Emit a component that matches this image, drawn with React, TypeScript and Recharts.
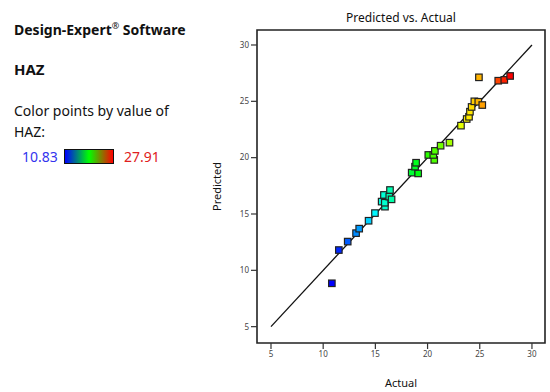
import React from "react";
import {
  ScatterChart,
  Scatter,
  XAxis,
  YAxis,
  ReferenceLine,
  ReferenceArea,
  Label,
} from "recharts";

// HAZ: actual vs predicted
const actual = [
  10.83, 11.5, 12.35, 13.15, 13.45, 14.35, 14.96, 15.92, 15.6, 15.9, 15.82, 16.33,
  16.55, 16.4, 18.48, 19.1, 18.8, 18.9, 20.07, 20.64, 20.55, 20.7, 21.25, 22.1,
  23.2, 23.75, 23.97, 24.06, 24.22, 24.48, 24.86, 25.24, 24.92, 26.77, 27.35, 27.91,
];
const predicted = [
  8.85, 11.8, 12.55, 13.3, 13.7, 14.4, 15.08, 15.65, 16.1, 16.0, 16.69, 16.54,
  16.3, 17.13, 18.67, 18.6, 19.2, 19.55, 20.24, 19.8, 20.24, 20.6, 21.06, 21.33,
  22.84, 23.43, 23.63, 24.08, 24.5, 25.0, 24.96, 24.67, 27.13, 26.83, 26.9, 27.25,
];
const ticks = [5, 10, 15, 20, 25, 30];
const minHaz = 10.83;
const maxHaz = 27.91;

const data = actual.map((a, i) => ({ actual: a, predicted: predicted[i] }));

const xDomain = [3.66, 31.25];
const yDomain = [3.55, 31.33];

const hazColor = (v: number) => {
  const t = (v - minHaz) / (maxHaz - minHaz);
  const hue = 240 * (1 - Math.max(0, Math.min(1, t)));
  return `hsl(${hue}, 100%, 50%)`;
};

const SquarePoint = (props: any) => {
  const { cx, cy, payload } = props;
  const s = 6.5;
  return (
    <rect
      x={cx - s / 2}
      y={cy - s / 2}
      width={s}
      height={s}
      fill={hazColor(payload.actual)}
      stroke="#222"
      strokeWidth={1.2}
    />
  );
};

const font = "'Noto Sans', 'Open Sans', sans-serif";

export default function App() {
  return (
    <div
      style={{
        position: "absolute",
        left: 0,
        top: 0,
        width: 550,
        height: 392,
        background: "#fff",
        fontFamily: font,
        color: "#111",
      }}
    >
      <div style={{ position: "absolute", left: 14, top: 16, fontSize: 14, fontWeight: 700, lineHeight: "20px" }}>
        Design-Expert<sup style={{ fontSize: 9, fontWeight: 400 }}>®</sup> Software
      </div>
      <div style={{ position: "absolute", left: 14, top: 59, fontSize: 15, fontWeight: 700, lineHeight: "20px" }}>
        HAZ
      </div>
      <div style={{ position: "absolute", left: 14, top: 100, fontSize: 14, lineHeight: "21px" }}>
        Color points by value of
        <br />
        HAZ:
      </div>
      <div style={{ position: "absolute", left: 22, top: 147, fontSize: 14, lineHeight: "20px", color: "#3333ee" }}>
        {minHaz.toFixed(2)}
      </div>
      <div
        style={{
          position: "absolute",
          left: 64,
          top: 149,
          width: 48,
          height: 13,
          border: "1.5px solid #111",
          background: "linear-gradient(to right, #0000ff, #00ff00, #ff0000)",
        }}
      />
      <div style={{ position: "absolute", left: 124, top: 147, fontSize: 14, lineHeight: "20px", color: "#e02020" }}>
        {maxHaz.toFixed(2)}
      </div>

      <div
        style={{
          position: "absolute",
          left: 257,
          width: 288,
          top: 10,
          textAlign: "center",
          fontSize: 12,
          lineHeight: "16px",
        }}
      >
        Predicted vs. Actual
      </div>

      <div style={{ position: "absolute", left: 0, top: 0 }}>
        <ScatterChart
          width={550}
          height={392}
          margin={{ top: 30, right: 5, bottom: 19, left: 237 }}
        >
          <XAxis
            type="number"
            dataKey="actual"
            domain={xDomain}
            ticks={ticks}
            allowDataOverflow
            height={30}
            axisLine={false}
            tickSize={6}
            tickLine={{ stroke: "#333", strokeWidth: 1.2 }}
            tick={{ fontSize: 8, fill: "#444", fontFamily: font }}
          >
            <Label
              value="Actual"
              position="bottom"
              offset={6}
              style={{ fontSize: 11, fill: "#111", fontFamily: font }}
            />
          </XAxis>
          <YAxis
            type="number"
            dataKey="predicted"
            domain={yDomain}
            ticks={ticks}
            allowDataOverflow
            width={20}
            axisLine={false}
            tickSize={6}
            tickLine={{ stroke: "#333", strokeWidth: 1.2 }}
            tick={{ fontSize: 8, fill: "#444", fontFamily: font }}
          >
            <Label
              value="Predicted"
              position="left"
              angle={-90}
              offset={20}
              style={{ fontSize: 11, fill: "#111", fontFamily: font, textAnchor: "middle" }}
            />
          </YAxis>
          <ReferenceArea
            x1={xDomain[0]}
            x2={xDomain[1]}
            y1={yDomain[0]}
            y2={yDomain[1]}
            fill="none"
            stroke="#222"
            strokeWidth={1.6}
            ifOverflow="visible"
          />
          <ReferenceLine
            segment={[
              { x: 5, y: 5 },
              { x: 30, y: 30 },
            ]}
            stroke="#111"
            strokeWidth={1.3}
          />
          <Scatter data={data} shape={<SquarePoint />} isAnimationActive={false} />
        </ScatterChart>
      </div>
    </div>
  );
}
